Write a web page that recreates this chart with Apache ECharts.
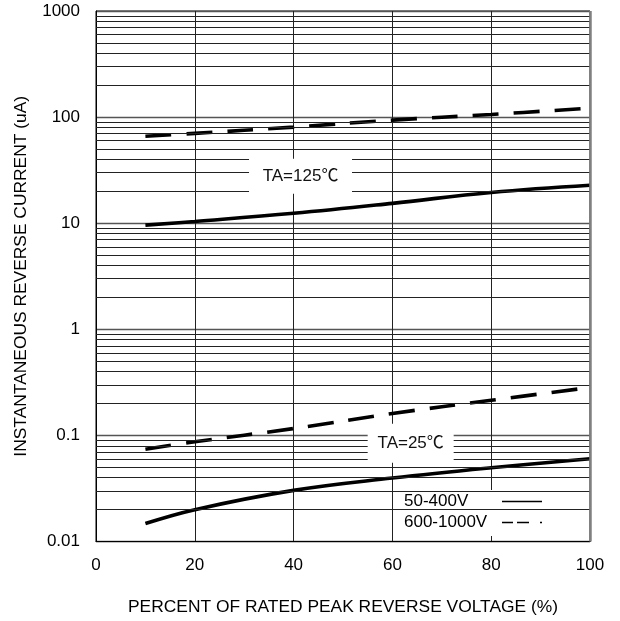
<!DOCTYPE html>
<html><head><meta charset="utf-8">
<script src="https://cdn.jsdelivr.net/npm/echarts@6/dist/echarts.min.js"></script>
<style>html,body{margin:0;padding:0;background:#fff}#c{width:620px;height:621px}</style>
</head><body><div id="c"></div>
<script>
const xValues = [10, 20, 40, 60, 80, 100];
const solid125 = [9.6, 10.4, 12.4, 15.4, 19.5, 22.8];
const dashed125 = [66, 70.3, 80.5, 93.7, 106, 121.5];
const solid25 = [0.0148, 0.02, 0.0304, 0.0397, 0.0496, 0.0603];
const dashed25 = [0.0743, 0.0873, 0.1163, 0.161, 0.2146, 0.283];
const xTickLabels = ['0', '20', '40', '60', '80', '100'];
const yTickLabels = ['0.01', '0.1', '1', '10', '100', '1000'];
const legendNames = ['50-400V', '600-1000V'];
const annoTexts = ['TA=125℃', 'TA=25℃'];
const annoX = [41.4, 63.7];
const annoY = [27.7, 0.0845];
const xName = 'PERCENT OF RATED PEAK REVERSE VOLTAGE (%)';
const yName = 'INSTANTANEOUS REVERSE CURRENT (uA)';

const FONT = "'Liberation Sans', Arial, 'Noto Sans CJK SC', sans-serif";
const pairs = ys => xValues.map((x, i) => [x, ys[i]]);

const minorLines = [];
[0.01, 0.1, 1, 10, 100].forEach(d => {
  for (let m = 2; m <= 9; m++) minorLines.push({ yAxis: +(d * m).toPrecision(3) });
});

const chart = echarts.init(document.getElementById('c'), null, { renderer: 'canvas' });
const lineBase = (name, ys, dashed) => ({
  name, type: 'line', data: pairs(ys), smooth: 0.4, symbol: 'none', z: 3,
  lineStyle: { color: '#000', width: 3.6, type: dashed ? [26, 15] : 'solid', cap: 'butt' },
  itemStyle: { color: '#000' }
});

chart.setOption({
  animation: false,
  backgroundColor: '#fff',
  textStyle: { fontFamily: FONT },
  grid: { left: 96, right: 30, top: 11, bottom: 78, show: true, borderColor: '#000', borderWidth: 1 },
  xAxis: {
    type: 'value', min: 0, max: 100, interval: 20,
    name: xName, nameLocation: 'middle', nameGap: 57,
    nameTextStyle: { fontSize: 17.4, color: '#000', fontFamily: FONT },
    axisLine: { show: true, lineStyle: { color: '#000', width: 1 } },
    axisTick: { show: false },
    axisLabel: { margin: 15, fontSize: 17, color: '#000', fontFamily: FONT,
      formatter: v => xTickLabels[Math.round(v / 20)] },
    splitLine: { show: true, lineStyle: { color: '#222', width: 1 } }
  },
  yAxis: {
    type: 'log', logBase: 10, min: 0.01, max: 1000,
    name: yName, nameLocation: 'middle', nameGap: 66,
    nameTextStyle: { fontSize: 17.4, color: '#000', fontFamily: FONT },
    axisLine: { show: true, lineStyle: { color: '#000', width: 1 } },
    axisTick: { show: false },
    axisLabel: { margin: 16, fontSize: 17, color: '#000', fontFamily: FONT,
      formatter: v => yTickLabels[Math.round(Math.log10(v)) + 2] },
    splitLine: { show: true, lineStyle: { color: '#555', width: 1.3 } },
    minorTick: { show: false }, minorSplitLine: { show: false }
  },
  legend: {
    orient: 'vertical', align: 'right', left: 393, top: 490,
    padding: [3, 24, 5, 11], itemGap: 4, itemWidth: 40, itemHeight: 14,
    backgroundColor: '#fff', selectedMode: false,
    itemStyle: { color: 'rgba(0,0,0,0)', borderWidth: 0, opacity: 0 },
    formatter: '{a|{name}}',
    textStyle: { fontFamily: FONT, fontSize: 17, color: '#000',
      rich: { a: { width: 93, align: 'left', fontSize: 17, lineHeight: 19, color: '#000', fontFamily: FONT } } },
    data: [
      { name: legendNames[0], lineStyle: { color: '#000', width: 1.5, type: 'solid' } },
      { name: legendNames[1], lineStyle: { color: '#000', width: 1.5, type: [11, 4, 12, 11, 2, 10] } }
    ]
  },
  series: [
    {
      type: 'line', data: [], z: 1, silent: true,
      markLine: {
        silent: true, symbol: 'none', label: { show: false }, animation: false,
        lineStyle: { color: '#222', width: 1, type: 'solid' },
        data: minorLines.concat([{ xAxis: 100, lineStyle: { color: '#808080', width: 2.5 } }])
      }
    },
    lineBase(legendNames[1], dashed125, true),
    lineBase(legendNames[0], solid125, false),
    lineBase(legendNames[1], dashed25, true),
    lineBase(legendNames[0], solid25, false),
    {
      type: 'line', data: [], z: 5, silent: true,
      markPoint: {
        silent: true, animation: false,
        data: annoTexts.map((t, i) => ({
          coord: [annoX[i], annoY[i]], symbol: 'rect',
          symbolSize: i === 0 ? [103, 35] : [86, 39],
          itemStyle: { color: '#fff' },
          label: { show: true, position: 'inside', formatter: t, color: '#111', fontSize: 17, fontFamily: FONT }
        }))
      }
    }
  ]
});
</script></body></html>
